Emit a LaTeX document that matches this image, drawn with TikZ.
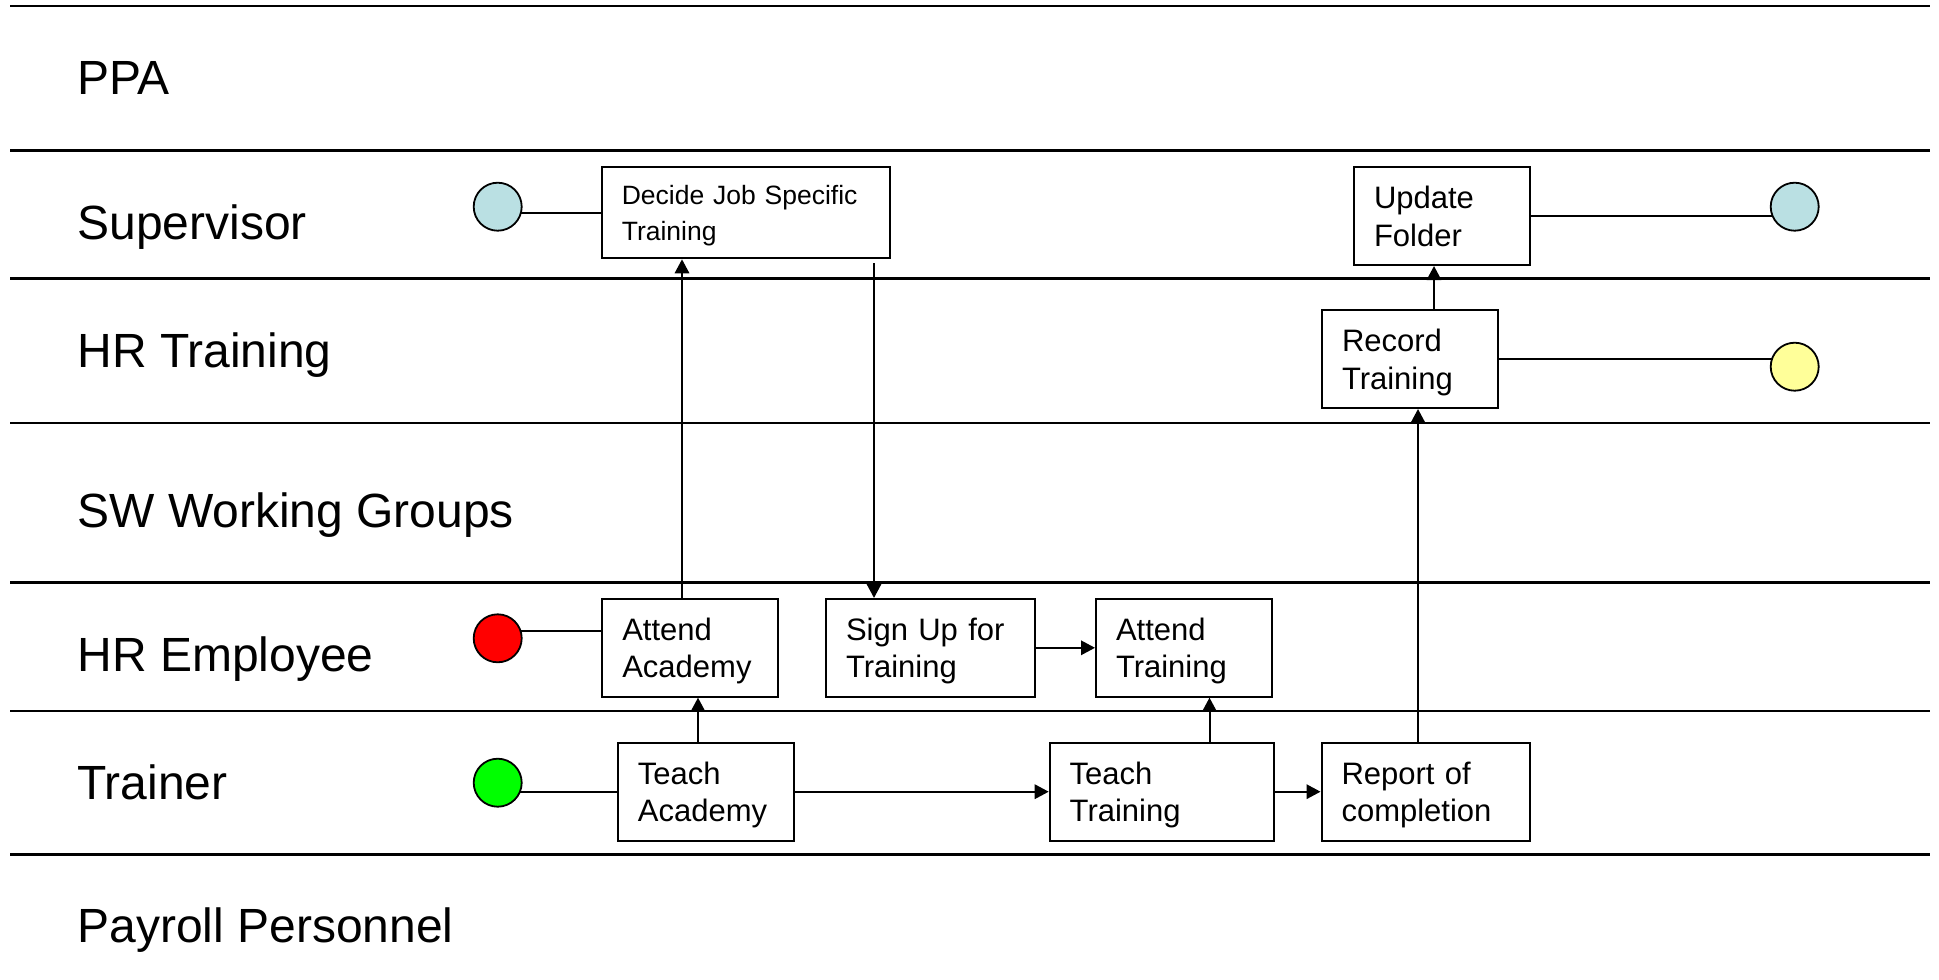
\documentclass[tikz,border=0pt]{standalone}
\usepackage{fontspec}
\setmainfont{Liberation Sans}
\usetikzlibrary{arrows.meta,calc,backgrounds}

\definecolor{supblue}{RGB}{186,224,227}
\definecolor{hryellow}{RGB}{255,255,153}
\definecolor{emred}{RGB}{255,0,0}
\definecolor{trgreen}{RGB}{0,255,0}

\newcommand\lnfont{\fontsize{24pt}{28pt}\selectfont}
\newcommand\bxfont{\fontsize{15.5pt}{18.7pt}\selectfont}
\newcommand\bxsmall{\fontsize{13.25pt}{17.85pt}\selectfont}

\tikzset{
  lane/.style={line width=1.4pt},
  lanelbl/.style={anchor=base west, inner sep=0pt, font=\lnfont},
  proc/.style={draw, line width=1pt, fill=white, inner xsep=10pt, inner ysep=0pt,
    align=left, font=\bxfont, text height=11.3pt, text depth=18.7pt},
  endpt/.style={circle, draw, line width=0.9pt, minimum size=24pt, inner sep=0pt},
  link/.style={line width=1pt},
  arr/.style={line width=1pt, -{Triangle[length=7pt,width=7.2pt]}}
}

\begin{document}
\begin{tikzpicture}[x=0.5pt, y=-0.5pt]
\useasboundingbox (0,0) rectangle (1939,980);

% swimlane separators
\foreach \yy in {6,150.7,278.3,423,582.5,711,854.5}
  \draw[lane] (10,\yy) -- (1930,\yy);

% lane titles
\node[lanelbl] (lppa) at (77,94.5) {PPA};
\node[lanelbl] (lsup) at (77,239.5) {Supervisor};
\node[lanelbl] (lhrt) at (77,367) {HR Training};
\node[lanelbl] (lsw)  at (77,527.5) {SW Working Groups};
\node[lanelbl] (lhre) at (77,671.5) {HR Employee};
\node[lanelbl] (ltr)  at (77,799.5) {Trainer};
\node[lanelbl] (lpay) at (77,942.5) {Payroll Personnel};

% start / end points
\node[endpt, fill=supblue]  (s1) at (497.7,206.7) {};
\node[endpt, fill=supblue]  (s2) at (1794.7,206.7) {};
\node[endpt, fill=hryellow] (y1) at (1794.7,366.7) {};
\node[endpt, fill=emred]    (r1) at (497.7,638.3) {};
\node[endpt, fill=trgreen]  (g1) at (497.7,782.7) {};

% activities
\node[proc, font=\bxsmall, text height=9.7pt, text depth=17.85pt, text width=124pt, minimum height=45.8pt]
  (dec) at (745.8,212.5) {Decide Job Specific\\Training};
\node[proc, text width=68pt, minimum height=49pt] (upd) at (1442,216) {Update\\Folder};
\node[proc, text width=68pt, minimum height=49pt] (rec) at (1410,359) {Record\\Training};
\node[proc, text width=68pt, minimum height=48.85pt] (aa) at (690.3,647.8) {Attend\\Academy};
\node[proc, text width=84.3pt, minimum height=48.85pt] (su) at (930.3,647.8) {Sign Up for\\Training};
\node[proc, text width=68pt, minimum height=48.85pt] (at) at (1184,647.8) {Attend\\Training};
\node[proc, text width=68.1pt, minimum height=49pt] (ta) at (706,791.7) {Teach\\Academy};
\node[proc, text width=92.3pt, minimum height=49pt] (tt) at (1162,791.7) {Teach\\Training};
\node[proc, text width=84.25pt, minimum height=49pt] (rep) at (1425.8,791.7) {Report of\\completion};

% columns of the vertical flows
\coordinate (xa) at (682,0);
\coordinate (xb) at (874,0);
\coordinate (xc) at (698,0);
\coordinate (xd) at (1209.5,0);
\coordinate (xe) at (1418,0);
\coordinate (xf) at (1434,0);
\coordinate (aaw) at ($(aa.north west)!0.33!(aa.south west)$);

% plain links to the start / end points
\begin{scope}[on background layer]
  \draw[link] (dec.west) -- (dec.west -| s1.center);
  \draw[link] (upd.east) -- (upd.east -| s2.center);
  \draw[link] (rec.east) -- (rec.east -| y1.center);
  \draw[link] (aaw) -- (aaw -| r1.center);
  \draw[link] (ta.west) -- (ta.west -| g1.center);
\end{scope}

% flow arrows
\draw[arr] (aa.north -| xa) -- (dec.south -| xa);
\draw[arr] ([yshift=-2pt]dec.south -| xb) -- (su.north -| xb);
\draw[arr] (su.east) -- (at.west);
\draw[arr] (ta.north -| xc) -- (aa.south -| xc);
\draw[arr] (ta.east) -- (tt.west);
\draw[arr] (tt.north -| xd) -- (at.south -| xd);
\draw[arr] (tt.east) -- (rep.west);
\draw[arr] (rep.north -| xe) -- (rec.south -| xe);
\draw[arr] (rec.north -| xf) -- (upd.south -| xf);
\end{tikzpicture}
\end{document}
